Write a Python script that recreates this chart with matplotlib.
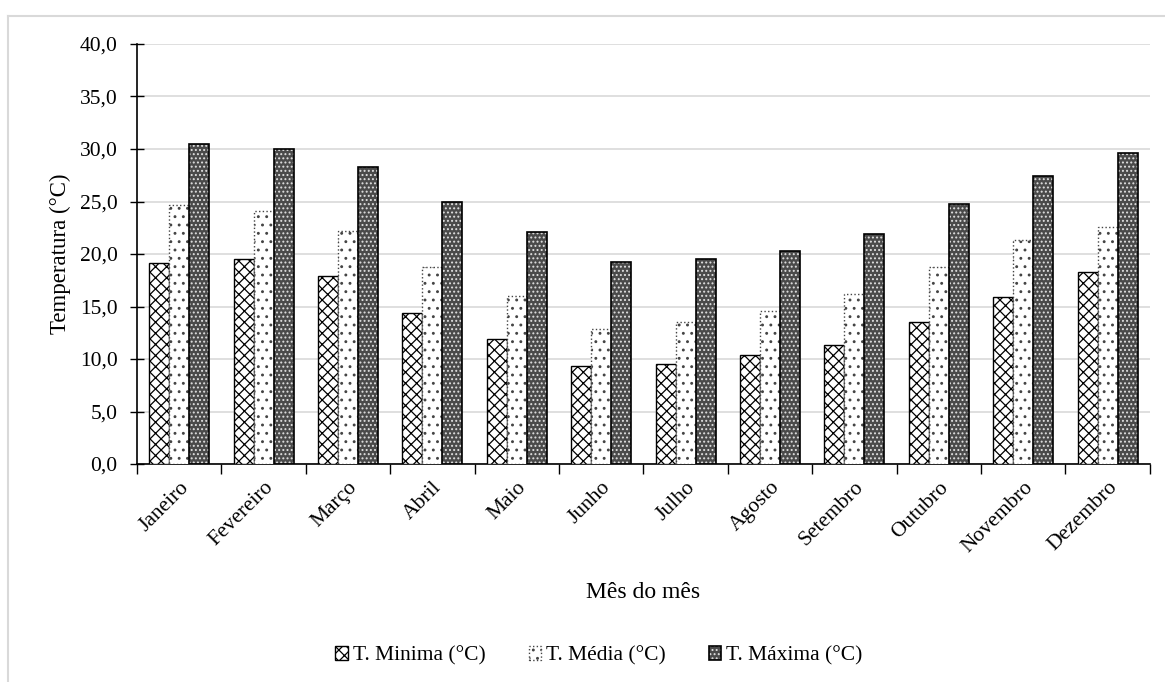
import numpy as np
import matplotlib.pyplot as plt
from matplotlib.ticker import FuncFormatter, FixedLocator
from matplotlib.lines import Line2D
from matplotlib.patches import Patch

plt.rcParams['font.family'] = ['Liberation Serif', 'DejaVu Serif']
plt.rcParams['hatch.linewidth'] = 0.9

meses = ['Janeiro', 'Fevereiro', 'Março', 'Abril', 'Maio', 'Junho', 'Julho',
         'Agosto', 'Setembro', 'Outubro', 'Novembro', 'Dezembro']
t_min = [19.1, 19.5, 17.9, 14.4, 11.9, 9.3, 9.5, 10.4, 11.3, 13.5, 15.9, 18.3]
t_med = [24.7, 24.1, 22.2, 18.8, 16.0, 12.9, 13.5, 14.6, 16.2, 18.8, 21.3, 22.6]
t_max = [30.5, 30.0, 28.3, 25.0, 22.1, 19.2, 19.5, 20.3, 21.9, 24.8, 27.4, 29.6]

fig = plt.figure(figsize=(11.65, 6.82), dpi=100)
ax = fig.add_axes([0.1176, 0.3196, 0.8694, 0.6159])

x = np.arange(len(meses))
w = 0.237

min_style = dict(facecolor='white', edgecolor='black', hatch='xxx', linewidth=1.0)
med_style = dict(facecolor='white', edgecolor='#444444', hatch='..', linewidth=1.0,
                 linestyle=':')
max_fill = dict(facecolor='#4a4a4a', edgecolor='#e0e0e0', hatch='....', linewidth=0)
max_edge = dict(facecolor='none', edgecolor='black', linewidth=1.2)

ax.bar(x - w, t_min, w, zorder=3, **min_style)
ax.bar(x, t_med, w, zorder=3, **med_style)
ax.bar(x + w, t_max, w, zorder=3, **max_fill)
ax.bar(x + w, t_max, w, zorder=4, **max_edge)

ax.set_xlim(-0.5, len(meses) - 0.5)
ax.set_ylim(0, 40)
ax.set_yticks(np.arange(0, 41, 5))
ax.yaxis.set_major_formatter(FuncFormatter(lambda v, p: f'{v:.1f}'.replace('.', ',')))
ax.grid(axis='y', color='#d9d9d9', linewidth=1.2, zorder=0)
ax.set_axisbelow(True)

ax.set_xticks(x)
ax.set_xticklabels(meses, rotation=45, ha='right', rotation_mode='anchor', fontsize=15.5)
ax.tick_params(axis='x', length=0, pad=10)
ax.xaxis.set_minor_locator(FixedLocator(np.arange(-0.5, len(meses), 1.0)))
ax.tick_params(axis='x', which='minor', length=7, direction='out', width=1)
ax.tick_params(axis='y', direction='inout', length=10, width=1, labelsize=15.5, pad=9)

for s in ['top', 'right']:
    ax.spines[s].set_visible(False)
ax.spines['left'].set_linewidth(1.2)
ax.spines['bottom'].set_linewidth(1.2)

ax.set_ylabel('Temperatura (°C)', fontsize=16.5, labelpad=6)
ax.set_xlabel('Mês do mês', fontsize=17)
ax.xaxis.set_label_coords(0.5, -0.28)

handles = [Patch(**min_style), Patch(**med_style),
           (Patch(**max_fill), Patch(**max_edge))]
labels = ['T. Minima (°C)', 'T. Média (°C)', 'T. Máxima (°C)']
fig.legend(handles, labels, loc='center', bbox_to_anchor=(0.514, 0.038), ncol=3,
           frameon=False, fontsize=15.5, handlelength=0.6, handleheight=0.6,
           handletextpad=0.2, columnspacing=2.0)

# light outer frame lines (left and top)
fig.add_artist(Line2D([8 / 1165, 8 / 1165], [0, 1 - 16 / 682], color='#d9d9d9',
                      linewidth=1.5, transform=fig.transFigure))
fig.add_artist(Line2D([8 / 1165, 1], [1 - 16 / 682, 1 - 16 / 682], color='#d9d9d9',
                      linewidth=1.5, transform=fig.transFigure))

fig.savefig('out.png', dpi=100)
